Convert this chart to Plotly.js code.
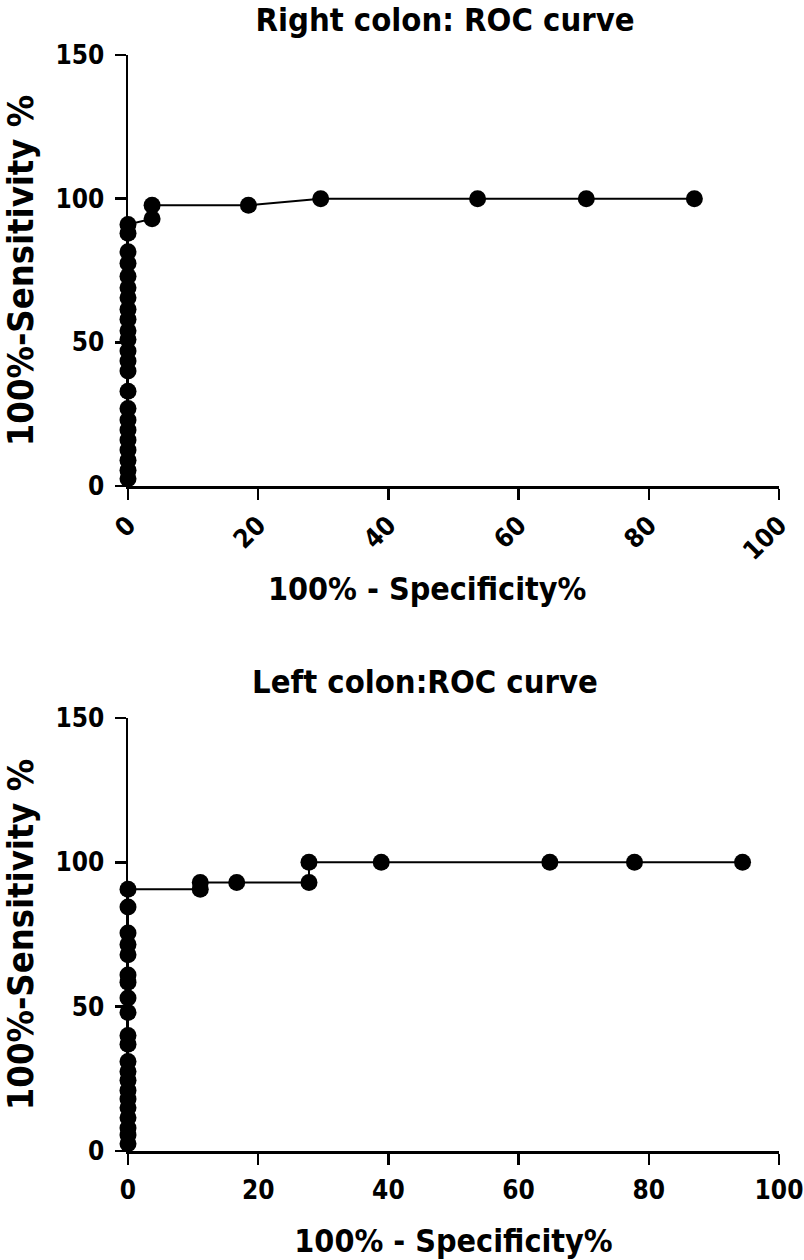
<!DOCTYPE html>
<html>
<head>
<meta charset="utf-8">
<script src="https://cdn.plot.ly/plotly-3.0.1.min.js"></script>
<style>html,body{margin:0;padding:0;background:#fff;}#chart{width:804px;height:1260px;}</style>
</head>
<body>
<div id="chart"></div>
<script>
// Right colon ROC curve (100% - Specificity%, 100% - Sensitivity%)
const rightX = [0,0,0,0,0,0,0,0,0,0,0,0,0,0,0,0,0,0,0,0,0,0,0, 3.7,3.7, 18.5, 29.6, 53.7, 70.4, 87.0];
const rightY = [2.5,5.5,9,12.5,16,19.5,23,27,33,40,43.5,47,51,54,58,61.5,65.5,69,73,77.5,81.5,88,91, 93,97.7, 97.7, 100, 100, 100, 100];

// Left colon ROC curve
const leftX = [0,0,0,0,0,0,0,0,0,0,0,0,0,0,0,0,0,0,0,0,0, 11.1,11.1, 16.7, 27.8,27.8, 38.9, 64.8, 77.8, 94.4];
const leftY = [2.5,5.5,8,11.5,15,18,21,24.5,27.5,31,37,40,48,53,58.5,61,68,71.5,75.5,84.5,90.7, 90.7,93, 93, 93,100, 100, 100, 100, 100];

const titles = ["Right colon: ROC curve", "Left colon:ROC curve"];
const xTitle = "100% - Specificity%";
const yTitle = "100%-Sensitivity %";
const xTicks = [0,20,40,60,80,100];
const yTicks = [0,50,100,150];

const FONT = "'DejaVu Sans Condensed', 'Liberation Sans', Arial, sans-serif";

const trace = (x, y, xa, ya) => ({
  x: x, y: y, xaxis: xa, yaxis: ya, type: 'scatter', mode: 'lines+markers',
  line: {color: '#000', width: 2},
  marker: {color: '#000', size: 17},
  cliponaxis: false, showlegend: false, hoverinfo: 'x+y'
});

const axisCommon = {
  showline: true, linecolor: '#000', linewidth: 2.5,
  ticks: 'outside', ticklen: 11, tickwidth: 2.5, tickcolor: '#000',
  showgrid: false, zeroline: false, fixedrange: true,
  tickfont: {family: FONT, size: 26, color: '#000', weight: 'bold'}
};

const H = 1260, W = 804;
const xDom = [128/W, 779/W];
const y1Dom = [(H-486)/H, (H-55)/H];
const y2Dom = [(H-1151)/H, (H-718)/H];

const titleFont = {family: FONT, size: 32.5, color: '#000', weight: 'bold'};
const xTitleFont = {family: FONT, size: 32, color: '#000', weight: 'bold'};
const yTitleFont = {family: FONT, size: 36, color: '#000', weight: 'bold'};

const layout = {
  width: W, height: H,
  margin: {l: 0, r: 0, t: 0, b: 0},
  paper_bgcolor: '#fff', plot_bgcolor: '#fff',
  showlegend: false,
  title: {text: titles[0], font: titleFont, x: 445/W, xanchor: 'center', y: 1 - 20/H, yanchor: 'middle', xref: 'paper', yref: 'paper'},
  xaxis: Object.assign({}, axisCommon, {domain: xDom, anchor: 'y', range: [0,100], tickvals: xTicks, tickangle: -45}),
  yaxis: Object.assign({}, axisCommon, {domain: y1Dom, anchor: 'x', range: [0,150], tickvals: yTicks, ticklabelstandoff: 5,
    title: {text: yTitle, font: yTitleFont, standoff: 12}}),
  xaxis2: Object.assign({}, axisCommon, {domain: xDom, anchor: 'y2', range: [0,100], tickvals: xTicks, tickangle: 0, ticklabelstandoff: 3,
    title: {text: xTitle, font: xTitleFont, standoff: 30}}),
  yaxis2: Object.assign({}, axisCommon, {domain: y2Dom, anchor: 'x2', range: [0,150], tickvals: yTicks, ticklabelstandoff: 5,
    title: {text: yTitle, font: yTitleFont, standoff: 12}}),
  annotations: [
    {text: xTitle, font: xTitleFont, xref: 'paper', yref: 'paper',
     x: 427/W, y: 1 - 589/H, xanchor: 'center', yanchor: 'middle', showarrow: false},
    {text: titles[1], font: titleFont, xref: 'paper', yref: 'paper',
     x: 425/W, y: 1 - 682/H, xanchor: 'center', yanchor: 'middle', showarrow: false}
  ]
};

Plotly.newPlot('chart', [trace(rightX, rightY, 'x', 'y'), trace(leftX, leftY, 'x2', 'y2')], layout, {staticPlot: true, displayModeBar: false});
</script>
</body>
</html>
